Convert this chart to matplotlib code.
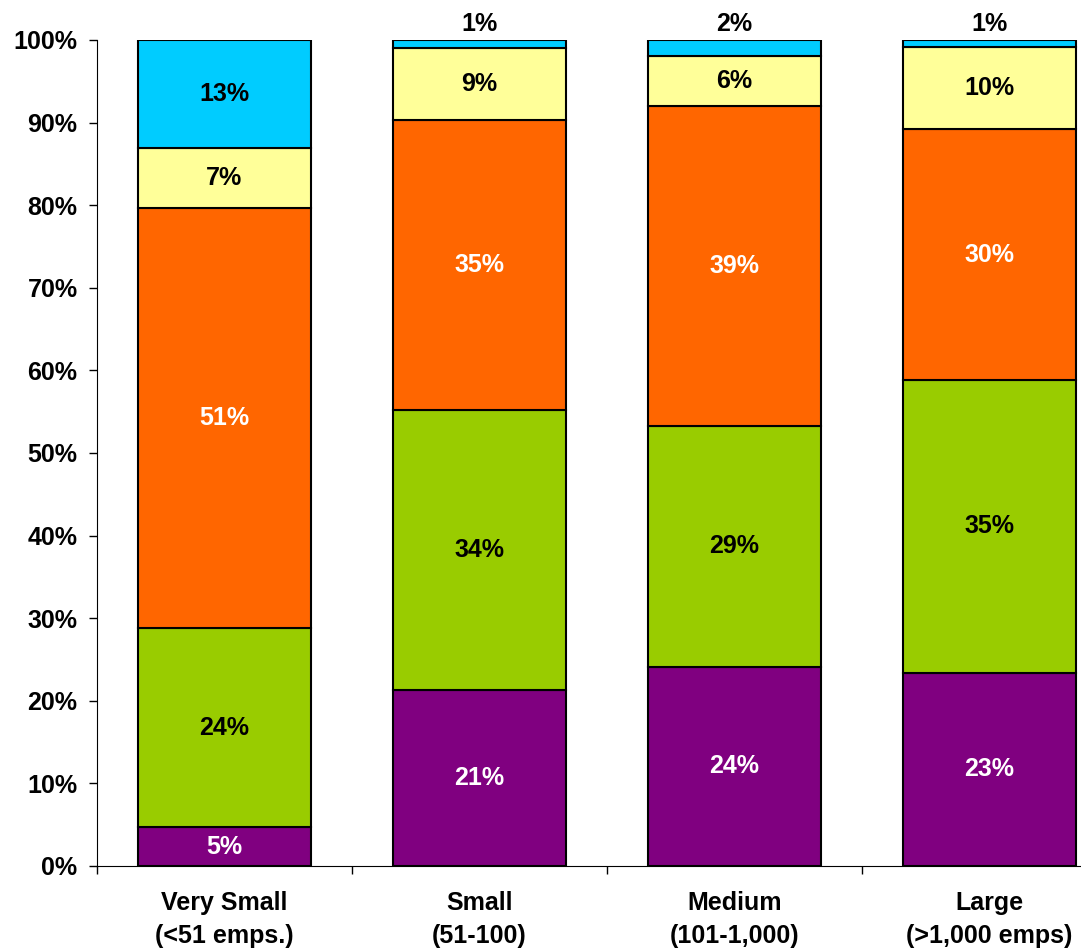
import numpy as np
import matplotlib.pyplot as plt

# Company size categories
categories = ["Very Small\n(<51 emps.)", "Small\n(51-100)", "Medium\n(101-1,000)", "Large\n(>1,000 emps)"]

# Stacked shares (percent), bottom to top
purple = [4.7, 21.3, 24.1, 23.4]
green = [24.1, 33.9, 29.2, 35.4]
orange = [50.9, 35.1, 38.7, 30.4]
yellow = [7.2, 8.7, 6.1, 10.0]
blue = [13.1, 1.0, 1.9, 0.8]

series = [purple, green, orange, yellow, blue]
colors = ["#800080", "#99CC00", "#FF6600", "#FFFF99", "#00CCFF"]
text_colors = ["white", "black", "white", "black", "black"]

plt.rcParams['font.family'] = ['Liberation Sans', 'DejaVu Sans']
plt.rcParams['font.weight'] = 'bold'

fig = plt.figure(figsize=(10.81, 9.51), dpi=100)
ax = fig.add_axes([0.0897, 0.0894, 0.9436, 0.8686])

x = np.arange(len(categories))
bottom = np.zeros(len(categories))
for vals, col, tcol in zip(series, colors, text_colors):
    vals = np.array(vals)
    ax.bar(x, vals, width=0.675, bottom=bottom, color=col, edgecolor="black", linewidth=1.5, zorder=2)
    for xi, b, v in zip(x, bottom, vals):
        if v < 3:
            # thin slices get their label above the bar
            ax.text(xi, 101.9, f"{v:.0f}%", ha="center", va="center", fontsize=18, fontweight="bold", color="black", clip_on=False)
        else:
            ax.text(xi, b + v / 2, f"{v:.0f}%", ha="center", va="center", fontsize=18, fontweight="bold", color=tcol)
    bottom += vals

ax.set_xlim(-0.5, 3.5)
ax.set_ylim(0, 100)
ax.set_yticks(np.arange(0, 101, 10))
ax.set_yticklabels([f"{v}%" for v in range(0, 101, 10)], fontsize=18, fontweight="bold")
ax.tick_params(axis="y", length=6, width=1, pad=8)

# category boundaries get tick marks, labels sit at centers
ax.set_xticks(np.arange(-0.5, 3.5, 1))
ax.set_xticklabels([])
ax.tick_params(axis="x", which="major", length=6, width=1)
ax.set_xticks(x, minor=True)
ax.set_xticklabels(categories, minor=True, fontsize=18, fontweight="bold", linespacing=1.45)
ax.tick_params(axis="x", which="minor", length=0, pad=18)

for s in ["top", "right"]:
    ax.spines[s].set_visible(False)

fig.savefig("out.png", dpi=100)
